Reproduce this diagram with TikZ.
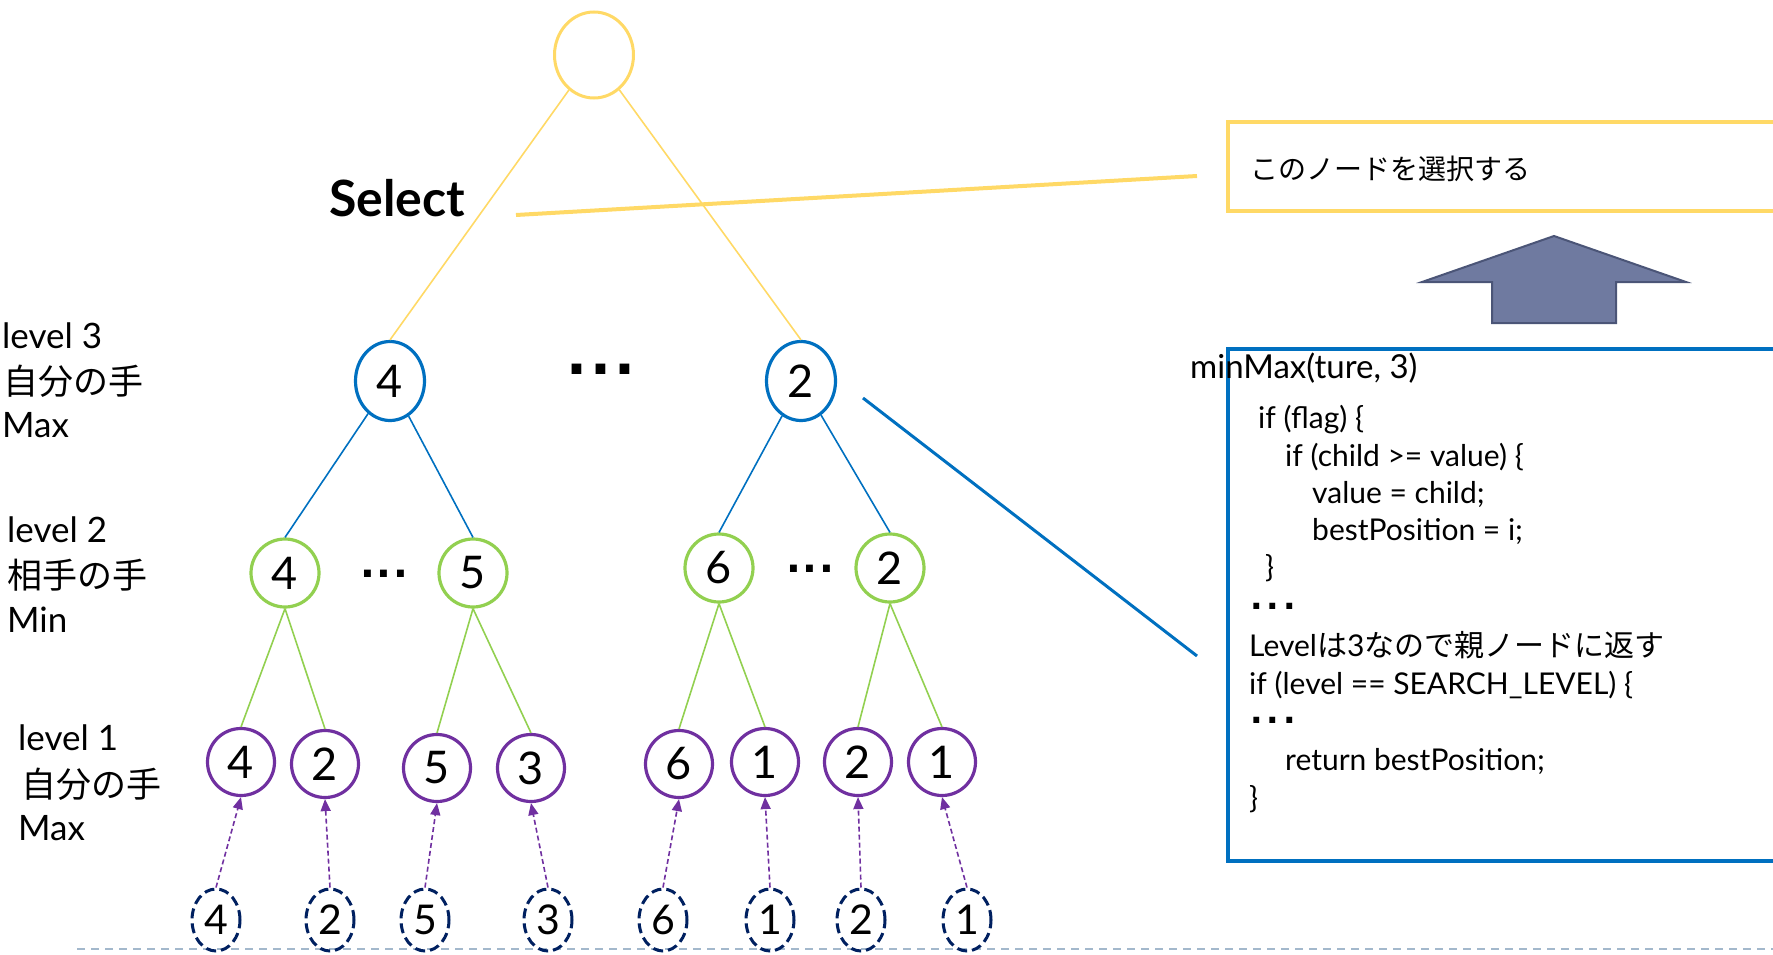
\documentclass[tikz,border=0pt]{standalone}
\usepackage{fontspec}
\setmainfont{Lato}
\newfontfamily\jp{Noto Sans CJK JP}
\newfontfamily\dotfont{DejaVu Sans}
\usetikzlibrary{shapes.geometric,arrows.meta}
\definecolor{yel}{HTML}{FFD966}
\definecolor{blu}{HTML}{0070C0}
\definecolor{grn}{HTML}{92D050}
\definecolor{pur}{HTML}{7030A0}
\definecolor{navy}{HTML}{002060}
\definecolor{gline}{HTML}{A3B8CC}
\definecolor{arrfill}{HTML}{6F7AA0}
\definecolor{arrdraw}{HTML}{4B5577}
\tikzset{
  num/.style={ellipse, inner sep=0pt, font=\fontsize{45}{45}\selectfont, line width=3.2pt},
  rootnode/.style={ellipse, inner sep=0pt, draw=yel, line width=3pt, minimum width=79pt, minimum height=86pt},
  lvthree/.style={num, draw=blu, minimum width=69pt, minimum height=79pt},
  lvtwo/.style={num, draw=grn, minimum size=68pt},
  lvone/.style={num, draw=pur, minimum size=67pt},
  leaf/.style={ellipse, inner sep=0pt, draw=navy, line width=3pt, dash pattern=on 10pt off 5pt,
    minimum width=48pt, minimum height=62pt, font=\fontsize{41}{41}\selectfont},
  yedge/.style={draw=yel, line width=1.6pt},
  bedge/.style={draw=blu, line width=1.6pt},
  gedge/.style={draw=grn, line width=1.6pt},
  upedge/.style={draw=pur, line width=1.6pt, dash pattern=on 5pt off 3pt, -{Triangle[length=12pt,width=10pt]}},
  lbl/.style={anchor=base west, inner sep=0pt, font=\fontsize{35}{42}\selectfont},
  code/.style={anchor=base west, inner sep=0pt, font=\fontsize{30}{37}\selectfont},
  dots/.style={anchor=base west, inner sep=0pt, text height=6pt, text depth=0pt,
    font=\dotfont\bfseries\fontsize{#1}{#1}\selectfont},
}
\begin{document}
\begin{tikzpicture}[x=1pt,y=-1pt]
\useasboundingbox (0,0) rectangle (1773,955);
% bottom dashed line
\coordinate (gl1) at (77,949);
\coordinate (gl2) at (1773,949);
\draw[gline, line width=2.2pt, dash pattern=on 8pt off 6pt] (gl1) -- (gl2);

% tree nodes
\node[rootnode] (root) at (594,55) {};
\node[lvthree] (a1) at (390,381) {4};
\node[lvthree] (a2) at (801,381) {2};
\node[lvtwo] (b1) at (285,573) {4};
\node[lvtwo] (b2) at (473,573) {5};
\node[lvtwo] (b3) at (719,568) {6};
\node[lvtwo] (b4) at (890,568) {2};
\node[lvone] (c1) at (241,762) {4};
\node[lvone] (c2) at (325,764) {2};
\node[lvone] (c3) at (437,768) {5};
\node[lvone] (c4) at (531,768) {3};
\node[lvone] (c5) at (679,764) {6};
\node[lvone] (c6) at (765,762) {1};
\node[lvone] (c7) at (858,762) {2};
\node[lvone] (c8) at (942,762) {1};
\node[leaf] (d1) at (216,920) {4};
\node[leaf] (d2) at (330,920) {2};
\node[leaf] (d3) at (425,920) {5};
\node[leaf] (d4) at (548,920) {3};
\node[leaf] (d5) at (663,920) {6};
\node[leaf] (d6) at (770,920) {1};
\node[leaf] (d7) at (861,920) {2};
\node[leaf] (d8) at (967,920) {1};

% edges
\draw[yedge] (root) -- (a1.north);
\draw[yedge] (root) -- (a2.north);
\draw[bedge] (a1) -- (b1.north);
\draw[bedge] (a1) -- (b2.north);
\draw[bedge] (a2) -- (b3.north);
\draw[bedge] (a2) -- (b4.north);
\draw[gedge] (b1.south) -- (c1.north);
\draw[gedge] (b1.south) -- (c2.north);
\draw[gedge] (b2.south) -- (c3.north);
\draw[gedge] (b2.south) -- (c4.north);
\draw[gedge] (b3.south) -- (c5.north);
\draw[gedge] (b3.south) -- (c6.north);
\draw[gedge] (b4.south) -- (c7.north);
\draw[gedge] (b4.south) -- (c8.north);
\foreach \i in {1,...,8} { \draw[upedge] (d\i.north) -- (c\i.south); }

% dots
\node[dots=55] (dt3) at (566,374) {.\kern3pt.\kern3pt.};
\node[dots=39] (dt2a) at (360,577) {.\kern1.7pt.\kern1.7pt.};
\node[dots=39] (dt2b) at (786,572) {.\kern1.7pt.\kern1.7pt.};

% level labels
\node[lbl] (l3a) at (2,348) {level 3};
\node[lbl] (l3b) at (3,394) {\jp 自分の手};
\node[lbl] (l3c) at (2,437) {Max};
\node[lbl] (l2a) at (7,542) {level 2};
\node[lbl] (l2b) at (7,588) {\jp 相手の手};
\node[lbl] (l2c) at (7,632) {Min};
\node[lbl] (l1a) at (18,750) {level 1};
\node[lbl] (l1b) at (21,797) {\jp 自分の手};
\node[lbl] (l1c) at (18,840) {Max};

% Select
\node[anchor=base west, inner sep=0pt, font=\bfseries\fontsize{50}{50}\selectfont] (sel) at (329,216) {Select};
\coordinate (s1) at (516,215);
\coordinate (s2) at (1197,176);
\draw[yel, line width=4pt] (s1) -- (s2);

% yellow box
\draw[yel, line width=3.2pt] (1228,122) rectangle (1790,211);
\node[anchor=base west, inner sep=0pt, font=\jp\fontsize{28}{28}\selectfont] (ytext) at (1250,179) {このノードを選択する};

% block arrow
\draw[fill=arrfill, draw=arrdraw, line width=2pt]
  (1554,236) -- (1686,282) -- (1616,282) -- (1616,323) -- (1492,323) -- (1492,282) -- (1422,282) -- cycle;

% blue box and connector
\draw[blu, line width=3.5pt] (1228,349) rectangle (1790,861);
\coordinate (bl1) at (863,398);
\coordinate (bl2) at (1197,656);
\draw[blu, line width=3pt] (bl1) -- (bl2);

% code
\node[anchor=base west, inner sep=0pt, font=\fontsize{33}{37}\selectfont] (k0) at (1190,378) {minMax(ture, 3)};
\node[code] (k1) at (1258,428) {if (flag) \{};
\node[code] (k2) at (1285,466) {if (child >= value) \{};
\node[code] (k3) at (1312,503) {value = child;};
\node[code] (k4) at (1312,540) {bestPosition = i;};
\node[code] (k5) at (1265,577) {\}};
\node[dots=33] (k6) at (1250,609) {.\kern4pt.\kern4pt.};
\node[code] (k7) at (1249,656) {Level{\jp は}3{\jp なので親ノードに返す}};
\node[code] (k8) at (1249,694) {if (level == SEARCH\_LEVEL) \{};
\node[dots=33] (k9) at (1250,723) {.\kern4pt.\kern4pt.};
\node[code] (k10) at (1285,770) {return bestPosition;};
\node[code] (k11) at (1249,808) {\}};
\end{tikzpicture}
\end{document}
